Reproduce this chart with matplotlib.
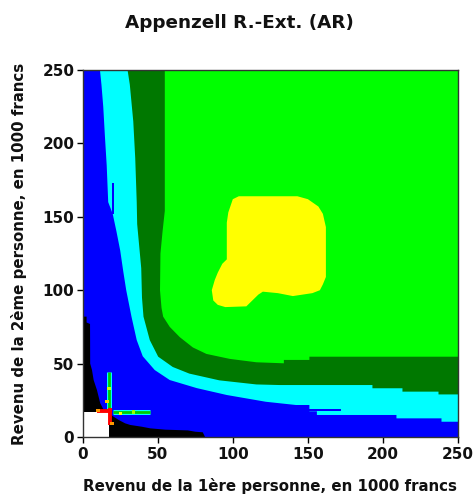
import matplotlib
matplotlib.use("Agg")
import matplotlib.pyplot as plt

# colours of the classes
BLUE = "#0000ff"
CYAN = "#00ffff"
DKGREEN = "#007800"
GREEN = "#00ff00"
YELLOW = "#ffff00"

# boundaries (income 1 / income 2, in 1000 francs)
blue_cyan_x = [11.5, 12.5, 13.7, 14.8, 16, 17, 20, 22.5, 25, 27, 29, 32.5, 36, 40, 48, 58, 76, 96, 122, 142, 151, 151, 156, 156, 175, 209, 209, 239, 239, 250]
blue_cyan_y = [250, 240, 225, 205, 185, 160, 152, 140, 127, 113, 100, 82, 66, 55, 45.6, 38.8, 33.3, 28.6, 24, 21.8, 21.8, 17.5, 17.5, 15, 15, 15, 12.7, 12.7, 10.4, 10.4]

cyan_dk_x = [29.9, 31.4, 33.7, 35, 36, 36.3, 39, 39.5, 40.5, 44.7, 50.3, 60, 71, 91, 115.7, 131, 193, 193, 213, 213, 237, 237, 250]
cyan_dk_y = [250, 240, 215, 190, 160, 145, 115, 95, 82, 66, 54.7, 47.7, 43.2, 38.6, 35.8, 35.4, 35.4, 33.2, 33.2, 30.9, 30.9, 29, 29]

dk_green_x = [54.7, 54.7, 53.2, 51.8, 51.5, 52.5, 53.6, 58, 64.7, 73.4, 82.4, 98, 115.7, 134, 134, 151, 151, 250]
dk_green_y = [250, 154, 140, 125, 100, 88, 82, 75, 68, 61, 56.6, 53.2, 50.9, 50.2, 52.5, 52.5, 54.7, 54.7]

yellow_x = [109, 143, 150, 157, 160, 162, 162, 160, 158, 153, 140, 130, 120, 117, 113, 109, 95, 90, 87, 86, 88, 90, 93, 96, 96, 97, 100, 104]
yellow_y = [164, 164, 162, 157, 152, 143, 109, 104, 100, 98, 96, 98, 99, 97, 93, 89, 88.5, 90, 93, 100, 107, 112, 118, 121, 146, 153, 162, 164]

black_x = [0, 2.6, 2.6, 4.9, 5, 6.2, 7.3, 9.5, 10.6, 11.7, 14, 17.3, 20.6, 24, 28.3, 31.7, 39.4, 45, 55, 70, 75, 80, 81.5, 0]
black_y = [82, 82, 78, 77, 50, 45.6, 38.8, 32, 27.5, 23, 18.4, 16.5, 13.8, 11.6, 9.3, 8.2, 7, 5.9, 5, 4.5, 3.6, 3.2, 0, 0]

white_x = [0, 17.3, 17.3, 0]
white_y = [0, 0, 16.8, 16.8]

# thin blue slivers inside the cyan band
sliver1_x = [19.5, 21, 21, 19.5]
sliver1_y = [152, 152, 173, 173]
sliver2_x = [151, 172, 172, 151]
sliver2_y = [17.5, 17.5, 19, 19]

# cross around the current income pair
cross_x = 17.5
cross_y = 17.0
vert_arm = [19, 44.5]
horiz_arm = [20, 45]
red_vert = [8, 20]
red_horiz = [9.5, 19.6]
dots_x = [16.2, 10.2, 25, 19.5, 17.5, 34]
dots_y = [24, 18, 16.1, 9.5, 33, 17]
dots_c = ["#ffcc00", "#ff9900", "#ffff00", "#ff9900", "#ccff00", "#99ff00"]

fig = plt.figure(figsize=(4.76, 5.0), dpi=100)
ax = fig.add_axes([0.1737, 0.126, 0.7885, 0.734])
ax.set_facecolor(BLUE)

ax.fill(blue_cyan_x + [250], blue_cyan_y + [250], color=CYAN, lw=0)
ax.fill(cyan_dk_x + [250], cyan_dk_y + [250], color=DKGREEN, lw=0)
ax.fill(dk_green_x + [250], dk_green_y + [250], color=GREEN, lw=0)
ax.fill(yellow_x, yellow_y, color=YELLOW, lw=0)
ax.fill(sliver1_x, sliver1_y, color=BLUE, lw=0)
ax.fill(sliver2_x, sliver2_y, color=BLUE, lw=0)
ax.fill(black_x, black_y, color="black", lw=0)
ax.fill(white_x, white_y, color="white", lw=0)

# cross: cyan rim, green core, red centre
ax.plot([cross_x, cross_x], vert_arm, color=CYAN, lw=3.6, solid_capstyle="butt")
ax.plot(horiz_arm, [cross_y, cross_y], color=CYAN, lw=3.6, solid_capstyle="butt")
ax.plot([cross_x, cross_x], vert_arm, color="#00cc00", lw=2.0, solid_capstyle="butt")
ax.plot(horiz_arm, [cross_y, cross_y], color="#00cc00", lw=2.0, solid_capstyle="butt")
ax.plot([cross_x + 0.8, cross_x + 0.8], red_vert, color="red", lw=2.8, solid_capstyle="butt")
ax.plot(red_horiz, [cross_y + 0.8, cross_y + 0.8], color="red", lw=2.8, solid_capstyle="butt")
ax.scatter(dots_x, dots_y, c=dots_c, s=5, marker="s", lw=0, zorder=5)

ax.set_xlim(0, 250)
ax.set_ylim(0, 250)
ticks = [0, 50, 100, 150, 200, 250]
ax.set_xticks(ticks)
ax.set_yticks(ticks)
ax.tick_params(direction="out", length=4, width=1, labelsize=11, colors="black", pad=2)
ax.tick_params(axis="x", pad=3)
for lab in ax.get_xticklabels() + ax.get_yticklabels():
    lab.set_fontweight("bold")
    lab.set_color("#111111")
for s in ax.spines.values():
    s.set_linewidth(1.0)
    s.set_color("#333333")

fig.text(0.504, 0.953, "Appenzell R.-Ext. (AR)", ha="center", va="center",
         fontsize=13.2, fontweight="bold", color="#111111")
ax.set_xlabel("Revenu de la 1ère personne, en 1000 francs", fontsize=10.8,
              fontweight="bold", color="#111111", labelpad=12)
ax.set_ylabel("Revenu de la 2ème personne, en 1000 francs", fontsize=10.8,
              fontweight="bold", color="#111111", labelpad=11)

fig.savefig("out.png", dpi=100)
